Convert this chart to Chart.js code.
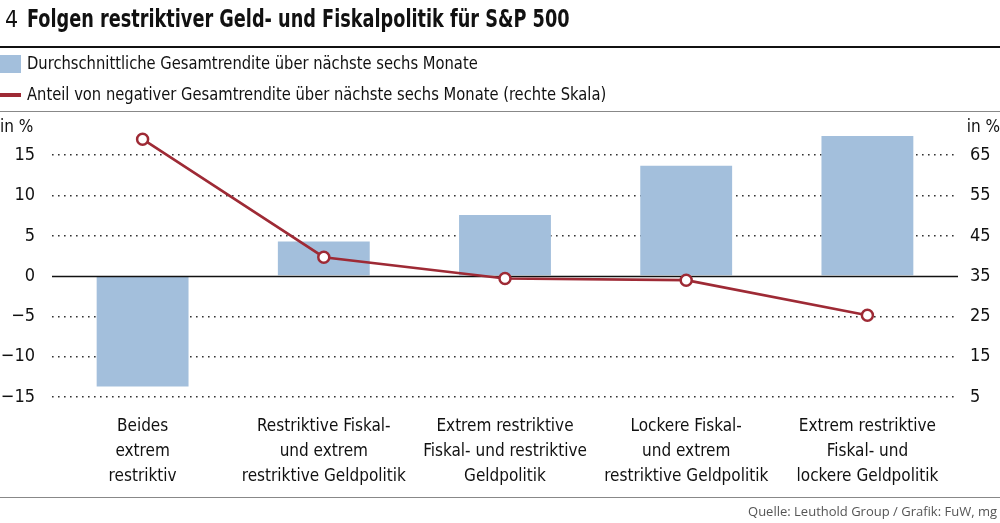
<!DOCTYPE html>
<html>
<head>
<meta charset="utf-8">
<script src="https://cdn.jsdelivr.net/npm/chart.js@4"></script>
<style>
  html, body { margin: 0; padding: 0; background: #fff; }
  #wrap { position: relative; width: 1000px; height: 523px; overflow: hidden;
    font-family: "Liberation Sans Narrow", "DejaVu Sans Condensed", "Roboto Condensed", sans-serif; color: #111; }
  #wrap canvas { position: absolute; left: 0; top: 0; }
  .abs { position: absolute; white-space: nowrap; }
  #num { left: 5px; top: 6px; font-size: 23px; }
  #title { left: 27px; top: 5px; font-size: 24px; font-weight: bold; transform: scaleX(0.82); transform-origin: left top; }
  #rule1 { left: 0; top: 46px; width: 1000px; height: 2px; background: #111; }
  #rule2 { left: 0; top: 111px; width: 1000px; height: 1px; background: #888; }
  #rule3 { left: 0; top: 497px; width: 1000px; height: 1px; background: #888; }
  #swatchBar { left: 0; top: 55px; width: 21px; height: 18px; background: #a3bfdc; }
  #swatchLine { left: 0; top: 93px; width: 21px; height: 4px; background: #9e2a35; }
  .leg { left: 27px; font-size: 18px; transform: scaleX(0.91); transform-origin: left top; }
  #leg1 { top: 52px; }
  #leg2 { top: 83px; }
  .unit { top: 116px; font-size: 17px; }
  #unitL { left: 0; }
  #unitR { right: 0; }
  #source { right: 3px; top: 502px; font-size: 13px; color: #555;
    font-family: "Open Sans", "Liberation Sans", sans-serif; }
</style>
</head>
<body>
<div id="wrap">
  <canvas id="chart" width="1000" height="523"></canvas>
  <div class="abs" id="num">4</div>
  <div class="abs" id="title">Folgen restriktiver Geld- und Fiskalpolitik für S&amp;P 500</div>
  <div class="abs" id="rule1"></div>
  <div class="abs" id="swatchBar"></div>
  <div class="abs leg" id="leg1">Durchschnittliche Gesamtrendite über nächste sechs Monate</div>
  <div class="abs" id="swatchLine"></div>
  <div class="abs leg" id="leg2">Anteil von negativer Gesamtrendite über nächste sechs Monate (rechte Skala)</div>
  <div class="abs" id="rule2"></div>
  <div class="abs unit" id="unitL">in %</div>
  <div class="abs unit" id="unitR">in %</div>
  <div class="abs" id="rule3"></div>
  <div class="abs" id="source">Quelle: Leuthold Group / Grafik: FuW, mg</div>
</div>
<script>
const categories = [
  ["Beides", "extrem", "restriktiv"],
  ["Restriktive Fiskal-", "und extrem", "restriktive Geldpolitik"],
  ["Extrem restriktive", "Fiskal- und restriktive", "Geldpolitik"],
  ["Lockere Fiskal-", "und extrem", "restriktive Geldpolitik"],
  ["Extrem restriktive", "Fiskal- und", "lockere Geldpolitik"]
];
const avgReturn = [-13.7, 4.3, 7.6, 13.7, 17.4];
const negShare = [69, 39.7, 34.4, 34.0, 25.3];
const leftTicks = [-15, -10, -5, 0, 5, 10, 15];
const rightTicks = [5, 15, 25, 35, 45, 55, 65];

const FONT = '"Liberation Sans Narrow", "DejaVu Sans Condensed", sans-serif';

// zero line goes over the bars but under the red line
const zeroLine = {
  id: "zeroLine",
  afterDatasetDraw(chart, args) {
    if (args.meta.type !== "bar") return;
    const { ctx, chartArea } = chart;
    const y = Math.round(chart.scales.y.getPixelForValue(0)) + 0.5;
    ctx.save();
    ctx.strokeStyle = "#111";
    ctx.lineWidth = 1.6;
    ctx.beginPath();
    ctx.moveTo(chartArea.left, y);
    ctx.lineTo(chartArea.right, y);
    ctx.stroke();
    ctx.restore();
  }
};

new Chart(document.getElementById("chart").getContext("2d"), {
  data: {
    labels: categories,
    datasets: [
      {
        type: "line",
        label: "Anteil von negativer Gesamtrendite",
        data: negShare,
        yAxisID: "y1",
        order: 1,
        borderColor: "#9e2a35",
        borderWidth: 2.6,
        pointRadius: 5.5,
        pointBorderWidth: 2.5,
        pointBackgroundColor: "#fff",
        pointBorderColor: "#9e2a35",
        tension: 0,
        clip: false
      },
      {
        type: "bar",
        label: "Durchschnittliche Gesamtrendite",
        data: avgReturn,
        yAxisID: "y",
        order: 2,
        backgroundColor: "#a3bfdc",
        barPercentage: 0.507,
        categoryPercentage: 1
      }
    ]
  },
  options: {
    responsive: false,
    animation: false,
    layout: { padding: { top: 115, left: 0, right: 0, bottom: 0 } },
    plugins: { legend: { display: false }, tooltip: { enabled: false } },
    scales: {
      x: {
        grid: { display: false },
        border: { display: false },
        ticks: {
          color: "#111",
          padding: 9,
          maxRotation: 0,
          autoSkip: false,
          font: { family: FONT, size: 17, lineHeight: "25px" }
        },
        afterFit(scale) { scale.height = 126; }
      },
      y: {
        position: "left",
        min: -15,
        max: 20,
        afterBuildTicks(scale) { scale.ticks = leftTicks.map(v => ({ value: v })); },
        border: { display: false, dash: [1.6, 4.4] },
        grid: {
          drawTicks: false,
          lineWidth: 1.6,
          color: c => (c.tick && c.tick.value === 0 ? "rgba(0,0,0,0)" : "#333")
        },
        ticks: {
          color: "#111",
          padding: 17,
          font: { family: FONT, size: 18 },
          callback: v => (v < 0 ? "\u2212" + Math.abs(v) : String(v))
        },
        afterFit(scale) { scale.width = 52; }
      },
      y1: {
        position: "right",
        min: 5,
        max: 75,
        afterBuildTicks(scale) { scale.ticks = rightTicks.map(v => ({ value: v })); },
        border: { display: false },
        grid: { display: false, drawTicks: false },
        ticks: {
          color: "#111",
          padding: 12,
          font: { family: FONT, size: 18 }
        },
        afterFit(scale) { scale.width = 42; }
      }
    }
  },
  plugins: [zeroLine]
});
</script>
</body>
</html>
